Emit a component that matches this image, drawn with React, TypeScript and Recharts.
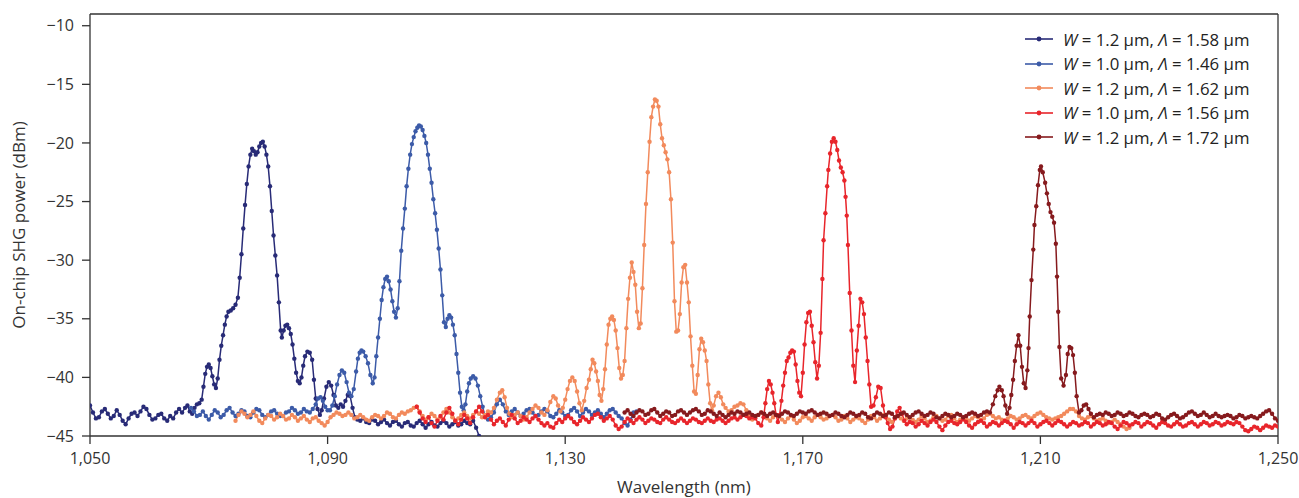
import { LineChart, Line, XAxis, YAxis, Legend, ReferenceLine } from 'recharts'

// the chart fills the whole window, so drop the default body margin
document.body.style.margin = '0'

const FONT = "'Open Sans', sans-serif"

const wavelengthTicks = [1050, 1090, 1130, 1170, 1210, 1250]
const powerTicks = [-45, -40, -35, -30, -25, -20, -15, -10]

// legend: waveguide width W and poling period Λ (μm)
const widths = ['1.2', '1.0', '1.2', '1.0', '1.2']
const periods = ['1.58', '1.46', '1.62', '1.56', '1.72']
const colors = ['#282b77', '#3c5ba8', '#f28a5c', '#e8252b', '#861a1d']

// [wavelength nm, power dBm]
const s1: [number, number][] = [
	[1050, -42.4], [1050.5, -43.0], [1051, -43.5], [1051.5, -43.4], [1052, -42.9], [1052.5, -42.7], [1053, -43.1], [1053.5, -43.5],
	[1054, -43.3], [1054.5, -42.8], [1055, -43.2], [1055.5, -43.7], [1056, -44.0], [1056.5, -43.5], [1057, -43.1], [1057.5, -43.0],
	[1058, -43.3], [1058.5, -42.9], [1059, -42.5], [1059.5, -42.7], [1060, -43.2], [1060.5, -43.6], [1061, -43.5], [1061.5, -43.2],
	[1062, -43.1], [1062.5, -43.5], [1063, -43.7], [1063.5, -43.3], [1064, -43.5], [1064.5, -43.0], [1065, -42.7], [1065.5, -43.0],
	[1066, -42.6], [1066.4, -42.4], [1066.8, -42.9], [1067.2, -43.1], [1067.6, -42.6], [1068, -42.3], [1068.4, -42.2], [1068.8, -41.9],
	[1069.1, -40.8], [1069.4, -39.7], [1069.7, -39.1], [1070, -38.9], [1070.3, -39.2], [1070.6, -39.9], [1070.9, -40.6], [1071.2, -40.9],
	[1071.5, -40.1], [1071.8, -38.5], [1072.1, -37.3], [1072.4, -36.4], [1072.7, -35.5], [1073, -34.8], [1073.3, -34.4], [1073.7, -34.3],
	[1074.1, -34.1], [1074.5, -33.8], [1074.9, -33.2], [1075.2, -31.5], [1075.5, -29.5], [1075.8, -27.3], [1076.1, -25.3], [1076.4, -23.5],
	[1076.7, -22.0], [1077, -21.0], [1077.3, -20.5], [1077.6, -20.7], [1077.9, -21.0], [1078.2, -20.8], [1078.5, -20.3], [1078.8, -20.0],
	[1079.1, -19.9], [1079.4, -20.3], [1079.7, -21.0], [1080, -22.0], [1080.3, -23.7], [1080.6, -25.8], [1080.9, -27.9], [1081.2, -29.6],
	[1081.5, -31.3], [1081.8, -33.6], [1082.1, -36.0], [1082.3, -36.6], [1082.6, -36.0], [1082.9, -35.6], [1083.2, -35.5], [1083.5, -35.8],
	[1083.8, -36.3], [1084.1, -37.2], [1084.4, -38.4], [1084.7, -39.6], [1085, -40.3], [1085.3, -40.5], [1085.6, -40.0], [1085.9, -39.0],
	[1086.2, -38.2], [1086.6, -37.8], [1087, -37.9], [1087.4, -38.5], [1087.7, -40.2], [1088, -41.8], [1088.3, -42.7], [1088.7, -43.2],
	[1089, -42.8], [1089.4, -41.8], [1089.8, -40.8], [1090.2, -40.4], [1090.6, -40.7], [1091, -41.5], [1091.4, -42.4], [1091.8, -42.6],
	[1092.2, -42.3], [1092.6, -42.5], [1093, -42.0], [1093.4, -41.5], [1093.8, -41.6], [1094.2, -42.6], [1094.6, -43.4], [1095, -43.6],
	[1095.5, -43.7], [1096, -43.5], [1096.5, -43.8], [1097, -43.9], [1097.5, -43.6], [1098, -43.7], [1098.5, -44.0], [1099, -43.8],
	[1099.5, -43.6], [1100, -43.9], [1100.5, -44.1], [1101, -43.8], [1101.5, -43.7], [1102, -44.0], [1102.5, -44.2], [1103, -43.9],
	[1103.5, -43.8], [1104, -44.1], [1104.5, -44.2], [1105, -43.9], [1105.5, -43.7], [1106, -44.0], [1106.5, -44.3], [1107, -44.0],
	[1107.5, -43.8], [1108, -44.1], [1108.5, -44.2], [1109, -43.9], [1109.5, -43.7], [1110, -43.9], [1110.5, -44.2], [1111, -44.0],
	[1111.5, -43.8], [1112, -44.1], [1112.5, -44.0], [1113, -43.7], [1113.5, -43.9], [1114, -44.0], [1114.5, -43.7], [1115, -44.3],
	[1115.5, -45.0],
]

const s2: [number, number][] = [
	[1067, -42.6], [1067.5, -42.9], [1068, -43.3], [1068.5, -43.2], [1069, -42.9], [1069.5, -43.3], [1070, -43.6], [1070.5, -43.2],
	[1071, -42.8], [1071.5, -43.0], [1072, -43.4], [1072.5, -43.2], [1073, -42.8], [1073.5, -42.6], [1074, -43.0], [1074.5, -43.3],
	[1075, -43.1], [1075.5, -42.8], [1076, -42.9], [1076.5, -43.3], [1077, -43.4], [1077.5, -43.0], [1078, -42.7], [1078.5, -42.8],
	[1079, -43.2], [1079.5, -43.4], [1080, -43.2], [1080.5, -42.9], [1081, -42.8], [1081.5, -43.1], [1082, -43.3], [1082.5, -43.3],
	[1083, -43.0], [1083.5, -42.9], [1084, -42.6], [1084.5, -42.8], [1085, -43.1], [1085.5, -43.0], [1086, -42.7], [1086.5, -42.9],
	[1087, -43.0], [1087.5, -42.7], [1088, -42.3], [1088.4, -41.8], [1088.8, -41.7], [1089.2, -42.0], [1089.6, -42.5], [1090, -42.8],
	[1090.4, -42.8], [1090.8, -42.4], [1091.2, -41.6], [1091.6, -40.6], [1092, -39.8], [1092.4, -39.4], [1092.8, -39.6], [1093.2, -40.4],
	[1093.6, -41.3], [1094, -41.6], [1094.4, -41.0], [1094.8, -39.5], [1095.1, -38.4], [1095.4, -37.9], [1095.7, -37.7], [1096, -37.8],
	[1096.4, -38.2], [1096.8, -38.8], [1097.2, -39.8], [1097.6, -40.5], [1097.9, -40.0], [1098.2, -38.2], [1098.5, -36.6], [1098.8, -35.0],
	[1099.1, -33.4], [1099.4, -32.3], [1099.7, -31.6], [1100, -31.4], [1100.3, -31.8], [1100.6, -32.5], [1100.9, -33.5], [1101.2, -34.4],
	[1101.5, -34.9], [1101.8, -34.1], [1102.1, -31.8], [1102.4, -29.2], [1102.7, -27.3], [1103, -25.6], [1103.3, -23.7], [1103.6, -22.2],
	[1103.9, -21.0], [1104.2, -20.1], [1104.5, -19.5], [1104.8, -19.0], [1105.1, -18.7], [1105.4, -18.5], [1105.7, -18.6], [1106, -18.9],
	[1106.3, -19.4], [1106.6, -20.0], [1106.9, -21.0], [1107.2, -22.2], [1107.5, -23.4], [1107.8, -24.8], [1108.1, -26.0], [1108.4, -27.4],
	[1108.7, -29.0], [1109, -30.8], [1109.3, -33.0], [1109.6, -35.3], [1109.9, -35.7], [1110.2, -35.0], [1110.5, -34.7], [1110.8, -34.9],
	[1111.1, -35.5], [1111.4, -36.4], [1111.7, -38.0], [1112, -39.6], [1112.3, -41.3], [1112.6, -42.5], [1112.9, -42.8], [1113.2, -42.3],
	[1113.5, -41.2], [1113.8, -40.5], [1114.1, -40.1], [1114.5, -39.9], [1114.9, -40.1], [1115.3, -40.7], [1115.7, -41.6], [1116.1, -42.5],
	[1116.5, -43.3], [1117, -43.6], [1117.5, -43.4], [1118, -43.0], [1118.5, -42.3], [1119, -41.9], [1119.5, -42.3], [1120, -42.9],
	[1120.5, -43.2], [1121, -42.9], [1121.5, -42.7], [1122, -43.0], [1122.5, -43.3], [1123, -43.1], [1123.5, -42.8], [1124, -42.7],
	[1124.5, -43.0], [1125, -43.3], [1125.5, -43.2], [1126, -42.9], [1126.5, -42.7], [1127, -42.9], [1127.5, -43.3], [1128, -43.4],
	[1128.5, -43.1], [1129, -42.8], [1129.5, -43.0], [1130, -43.3], [1130.5, -43.2], [1131, -42.8], [1131.5, -42.6], [1132, -42.9],
	[1132.5, -43.3], [1133, -43.0], [1133.5, -42.7], [1134, -42.9], [1134.5, -43.2], [1135, -43.0], [1135.5, -42.8], [1136, -43.1],
	[1136.5, -43.4], [1137, -43.1], [1137.5, -42.8], [1138, -42.7], [1138.5, -43.0], [1139, -43.3], [1139.5, -43.5], [1140, -43.9],
	[1140.5, -44.1], [1141, -43.6], [1141.5, -43.0], [1142, -42.9],
]

const s3: [number, number][] = [
	[1074.5, -43.7], [1075, -43.2], [1075.5, -42.9], [1076, -43.1], [1076.5, -43.4], [1077, -43.2], [1077.5, -42.9], [1078, -43.3],
	[1078.5, -43.7], [1079, -43.9], [1079.5, -43.5], [1080, -43.2], [1080.5, -43.3], [1081, -43.6], [1081.5, -43.4], [1082, -43.1],
	[1082.5, -43.3], [1083, -43.6], [1083.5, -43.5], [1084, -43.2], [1084.5, -43.4], [1085, -43.7], [1085.5, -43.5], [1086, -43.3],
	[1086.5, -43.6], [1087, -43.8], [1087.5, -43.5], [1088, -43.4], [1088.5, -43.7], [1089, -43.9], [1089.5, -44.1], [1090, -43.8],
	[1090.5, -43.4], [1091, -43.2], [1091.5, -43.0], [1092, -43.1], [1092.5, -43.3], [1093, -43.2], [1093.5, -43.0], [1094, -43.2],
	[1094.5, -43.5], [1095, -43.4], [1095.5, -43.2], [1096, -43.4], [1096.5, -43.6], [1097, -43.7], [1097.5, -43.4], [1098, -43.2],
	[1098.5, -43.3], [1099, -43.5], [1099.5, -43.3], [1100, -43.0], [1100.5, -43.1], [1101, -43.4], [1101.5, -43.5], [1102, -43.2],
	[1102.5, -43.0], [1103, -43.1], [1103.5, -42.9], [1104, -42.8], [1104.5, -42.6], [1105, -42.5], [1105.5, -42.9], [1106, -43.3],
	[1106.5, -43.6], [1107, -43.4], [1107.5, -43.1], [1108, -43.3], [1108.5, -43.6], [1109, -43.4], [1109.5, -43.0], [1110, -42.7],
	[1110.5, -43.0], [1111, -43.4], [1111.5, -43.7], [1112, -43.5], [1112.5, -43.2], [1113, -43.0], [1113.5, -43.3], [1114, -43.5],
	[1114.5, -43.2], [1115, -42.9], [1115.5, -43.1], [1116, -43.4], [1116.5, -43.2], [1117, -42.9], [1117.5, -43.0], [1118, -42.6],
	[1118.5, -41.9], [1119, -41.3], [1119.4, -41.1], [1119.8, -41.7], [1120.2, -42.6], [1120.6, -43.1], [1121, -43.4], [1121.5, -43.2],
	[1122, -43.0], [1122.5, -43.3], [1123, -43.6], [1123.5, -43.4], [1124, -43.0], [1124.5, -42.7], [1125, -42.4], [1125.5, -42.6],
	[1126, -43.0], [1126.5, -43.2], [1127, -42.8], [1127.5, -42.1], [1128, -41.6], [1128.4, -41.8], [1128.8, -42.4], [1129.2, -42.9],
	[1129.6, -42.6], [1130, -41.9], [1130.4, -41.0], [1130.8, -40.3], [1131.2, -40.0], [1131.6, -40.3], [1132, -41.2], [1132.4, -42.2],
	[1132.8, -42.8], [1133.2, -42.0], [1133.6, -40.9], [1134, -40.2], [1134.3, -39.3], [1134.6, -38.5], [1134.9, -38.8], [1135.2, -39.5],
	[1135.5, -40.3], [1135.8, -41.5], [1136.1, -42.0], [1136.4, -41.0], [1136.7, -39.3], [1137, -37.2], [1137.3, -35.5], [1137.6, -35.0],
	[1137.9, -34.8], [1138.2, -35.1], [1138.5, -36.0], [1138.8, -37.5], [1139.1, -39.2], [1139.4, -40.1], [1139.7, -39.8], [1140, -38.6],
	[1140.3, -35.8], [1140.6, -33.3], [1140.9, -31.5], [1141.2, -30.2], [1141.5, -31.0], [1141.8, -32.1], [1142.1, -34.4], [1142.4, -35.8],
	[1142.7, -35.4], [1143, -32.4], [1143.3, -28.7], [1143.6, -25.2], [1143.9, -22.5], [1144.2, -19.9], [1144.5, -17.8], [1144.8, -16.9],
	[1145.1, -16.3], [1145.4, -16.4], [1145.7, -16.9], [1146, -18.4], [1146.3, -19.6], [1146.6, -20.2], [1146.9, -20.8], [1147.2, -21.4],
	[1147.5, -22.5], [1147.8, -24.8], [1148.1, -28.5], [1148.4, -33.5], [1148.7, -36.1], [1149, -36.0], [1149.3, -34.6], [1149.6, -31.9],
	[1149.9, -30.6], [1150.2, -30.4], [1150.5, -31.9], [1150.8, -33.6], [1151.1, -36.5], [1151.4, -39.0], [1151.7, -41.2], [1152, -41.4],
	[1152.3, -39.8], [1152.6, -37.6], [1152.9, -36.7], [1153.2, -37.0], [1153.5, -37.7], [1153.8, -38.6], [1154.1, -40.6], [1154.4, -42.2],
	[1154.7, -42.8], [1155, -42.4], [1155.4, -41.6], [1155.8, -41.3], [1156.2, -41.7], [1156.6, -42.3], [1157, -42.6], [1157.5, -42.9],
	[1158, -42.8], [1158.5, -42.5], [1159, -42.4], [1159.5, -42.2], [1160, -42.3], [1160.5, -42.8], [1161, -43.3], [1161.5, -43.6],
	[1162, -43.4], [1162.5, -43.2], [1163, -43.0], [1163.5, -43.2], [1164, -43.5], [1164.5, -43.7], [1165, -43.4], [1165.5, -43.2],
	[1166, -43.3], [1166.5, -43.6], [1167, -43.8], [1167.5, -43.5], [1168, -43.3], [1168.5, -43.6], [1169, -43.9], [1169.5, -43.7],
	[1170, -43.4], [1170.5, -43.3], [1171, -43.5], [1171.5, -43.7], [1172, -43.4], [1172.5, -43.2], [1173, -43.4], [1173.5, -43.6],
	[1174, -43.5], [1174.5, -43.3], [1175, -43.2], [1175.5, -43.4], [1176, -43.7], [1176.5, -43.6], [1177, -43.3], [1177.5, -43.5],
	[1178, -43.8], [1178.5, -43.6], [1179, -43.4], [1179.5, -43.5], [1180, -43.7], [1180.5, -43.9], [1181, -43.6], [1181.5, -43.3],
	[1182, -43.4], [1182.5, -43.7], [1183, -43.5], [1183.5, -43.2], [1184, -43.3], [1184.5, -43.6], [1185, -43.8], [1185.5, -43.5],
	[1186, -43.3], [1186.5, -43.5], [1187, -43.7], [1187.5, -43.5], [1188, -43.4], [1188.5, -43.6], [1189, -43.8], [1189.5, -43.6],
	[1190, -43.3], [1190.5, -43.5], [1191, -43.8], [1191.5, -43.7], [1192, -43.4], [1192.5, -43.3], [1193, -43.5], [1193.5, -43.7],
	[1194, -43.6], [1194.5, -43.3], [1195, -43.2], [1195.5, -43.5], [1196, -43.8], [1196.5, -43.6], [1197, -43.4], [1197.5, -43.5],
	[1198, -43.7], [1198.5, -43.5], [1199, -43.3], [1199.5, -43.4], [1200, -43.6], [1200.5, -43.5], [1201, -43.2], [1201.5, -43.1],
	[1202, -43.3], [1202.5, -43.5], [1203, -43.4], [1203.5, -43.6], [1204, -43.7], [1204.5, -43.5], [1205, -43.3], [1205.5, -43.4],
	[1206, -43.6], [1206.5, -43.5], [1207, -43.3], [1207.5, -43.2], [1208, -43.4], [1208.5, -43.5], [1209, -43.3], [1209.5, -43.1],
	[1210, -43.0], [1210.5, -43.2], [1211, -43.4], [1211.5, -43.5], [1212, -43.6], [1212.5, -43.5], [1213, -43.4], [1213.5, -43.3],
	[1214, -43.1], [1214.5, -42.9], [1215, -42.7], [1215.5, -42.7], [1216, -42.9], [1216.5, -43.3], [1217, -43.5], [1217.5, -43.6],
	[1218, -43.4], [1218.5, -43.3], [1219, -43.5], [1219.5, -43.7], [1220, -43.6], [1220.5, -43.5], [1221, -43.7], [1221.5, -43.9],
	[1222, -43.8], [1222.5, -43.6], [1223, -43.8], [1223.5, -44.0], [1224, -44.2], [1224.5, -44.4], [1225, -44.3],
]

const s4: [number, number][] = [
	[1105, -42.5], [1105.5, -43.0], [1106, -43.5], [1106.5, -43.8], [1107, -43.4], [1107.5, -43.9], [1108, -44.2], [1108.5, -43.7],
	[1109, -43.3], [1109.5, -43.6], [1110, -43.0], [1110.5, -42.6], [1111, -43.1], [1111.5, -43.7], [1112, -44.0], [1112.5, -43.6],
	[1113, -43.2], [1113.5, -43.5], [1114, -43.9], [1114.5, -43.4], [1115, -42.9], [1115.5, -42.5], [1116, -42.9], [1116.5, -43.4],
	[1117, -43.2], [1117.5, -43.6], [1118, -44.0], [1118.5, -43.7], [1119, -43.5], [1119.5, -43.8], [1120, -44.1], [1120.5, -43.6],
	[1121, -43.2], [1121.5, -43.5], [1122, -43.9], [1122.5, -43.7], [1123, -43.4], [1123.5, -43.6], [1124, -43.8], [1124.5, -43.5],
	[1125, -43.3], [1125.5, -43.6], [1126, -43.9], [1126.5, -44.1], [1127, -43.9], [1127.5, -44.2], [1128, -44.3], [1128.5, -43.9],
	[1129, -43.6], [1129.5, -43.8], [1130, -43.5], [1130.5, -43.3], [1131, -43.5], [1131.5, -43.8], [1132, -44.0], [1132.5, -43.7],
	[1133, -43.4], [1133.5, -43.6], [1134, -43.8], [1134.5, -43.5], [1135, -43.2], [1135.5, -43.1], [1136, -43.4], [1136.5, -43.7],
	[1137, -43.5], [1137.5, -43.3], [1138, -43.6], [1138.5, -44.1], [1139, -44.4], [1139.5, -44.2], [1140, -43.8], [1140.5, -43.5],
	[1141, -43.7], [1141.5, -43.9], [1142, -43.6], [1142.5, -43.4], [1143, -43.6], [1143.5, -43.9], [1144, -43.7], [1144.5, -43.5],
	[1145, -43.6], [1145.5, -43.8], [1146, -43.9], [1146.5, -43.6], [1147, -43.4], [1147.5, -43.6], [1148, -43.8], [1148.5, -43.9],
	[1149, -43.7], [1149.5, -43.5], [1150, -43.7], [1150.5, -43.9], [1151, -43.7], [1151.5, -43.5], [1152, -43.6], [1152.5, -43.8],
	[1153, -43.9], [1153.5, -43.7], [1154, -43.5], [1154.5, -43.7], [1155, -43.8], [1155.5, -43.6], [1156, -43.5], [1156.5, -43.7],
	[1157, -43.9], [1157.5, -43.7], [1158, -43.5], [1158.5, -43.4], [1159, -43.6], [1159.5, -43.4], [1160, -43.2], [1160.5, -43.3],
	[1161, -43.5], [1161.5, -43.4], [1162, -43.5], [1162.5, -43.9], [1163, -44.1], [1163.4, -43.4], [1163.7, -42.2], [1164, -41.0],
	[1164.3, -40.3], [1164.6, -40.6], [1164.9, -41.3], [1165.2, -42.2], [1165.5, -43.2], [1165.8, -43.8], [1166.1, -43.2], [1166.4, -42.0],
	[1166.7, -40.7], [1167, -39.6], [1167.3, -38.6], [1167.6, -38.3], [1167.9, -37.9], [1168.2, -37.7], [1168.5, -37.8], [1168.8, -38.9],
	[1169.1, -40.3], [1169.4, -41.3], [1169.7, -41.6], [1170, -39.6], [1170.3, -37.2], [1170.6, -35.3], [1170.9, -34.5], [1171.2, -34.4],
	[1171.5, -35.6], [1171.8, -37.0], [1172.1, -38.7], [1172.4, -40.1], [1172.7, -39.0], [1173, -36.2], [1173.3, -31.6], [1173.5, -28.3],
	[1173.8, -26.0], [1174.1, -23.7], [1174.3, -22.3], [1174.6, -20.9], [1174.9, -19.9], [1175.2, -19.6], [1175.5, -19.9], [1175.8, -20.6],
	[1176.1, -21.5], [1176.4, -22.1], [1176.7, -22.5], [1177, -23.2], [1177.2, -24.6], [1177.4, -26.2], [1177.6, -28.7], [1177.9, -32.8],
	[1178.2, -36.0], [1178.5, -39.0], [1178.8, -40.4], [1179.1, -37.7], [1179.4, -35.6], [1179.7, -33.3], [1180, -33.6], [1180.3, -34.6],
	[1180.6, -36.6], [1180.9, -38.6], [1181.2, -40.6], [1181.5, -42.5], [1181.9, -42.4], [1182.3, -41.7], [1182.7, -40.8], [1183.1, -40.9],
	[1183.5, -42.4], [1183.9, -43.4], [1184.3, -43.9], [1184.7, -44.4], [1185.1, -44.2], [1185.5, -43.5], [1185.9, -42.9], [1186.3, -42.6],
	[1186.7, -43.1], [1187.1, -43.7], [1187.5, -44.0], [1188, -43.8], [1188.5, -43.9], [1189, -44.2], [1189.5, -44.0], [1190, -43.7],
	[1190.5, -43.9], [1191, -44.1], [1191.5, -43.8], [1192, -43.6], [1192.5, -43.8], [1193, -44.2], [1193.5, -44.5], [1194, -44.1],
	[1194.5, -43.8], [1195, -43.7], [1195.5, -43.9], [1196, -44.0], [1196.5, -43.8], [1197, -43.6], [1197.5, -43.8], [1198, -44.1],
	[1198.5, -44.3], [1199, -44.0], [1199.5, -43.8], [1200, -43.7], [1200.5, -43.9], [1201, -44.2], [1201.5, -44.0], [1202, -43.8],
	[1202.5, -43.9], [1203, -44.1], [1203.5, -43.9], [1204, -43.7], [1204.5, -43.8], [1205, -44.0], [1205.5, -44.3], [1206, -44.0],
	[1206.5, -43.8], [1207, -43.9], [1207.5, -44.1], [1208, -43.9], [1208.5, -43.7], [1209, -43.9], [1209.5, -44.2], [1210, -44.0],
	[1210.5, -43.8], [1211, -43.7], [1211.5, -43.9], [1212, -44.1], [1212.5, -43.9], [1213, -43.7], [1213.5, -43.8], [1214, -44.0],
	[1214.5, -44.2], [1215, -44.0], [1215.5, -43.8], [1216, -43.9], [1216.5, -44.1], [1217, -44.0], [1217.5, -43.8], [1218, -43.9],
	[1218.5, -44.2], [1219, -44.0], [1219.5, -43.8], [1220, -43.9], [1220.5, -44.1], [1221, -44.0], [1221.5, -43.8], [1222, -43.9],
	[1222.5, -44.2], [1223, -44.4], [1223.5, -44.1], [1224, -43.8], [1224.5, -43.9], [1225, -44.1], [1225.5, -44.0], [1226, -43.8],
	[1226.5, -43.9], [1227, -44.2], [1227.5, -44.0], [1228, -43.8], [1228.5, -43.9], [1229, -44.1], [1229.5, -44.3], [1230, -44.0],
	[1230.5, -43.8], [1231, -43.9], [1231.5, -44.1], [1232, -44.2], [1232.5, -44.0], [1233, -43.8], [1233.5, -44.0], [1234, -44.2],
	[1234.5, -44.1], [1235, -43.9], [1235.5, -43.8], [1236, -44.0], [1236.5, -44.2], [1237, -44.0], [1237.5, -43.8], [1238, -43.9],
	[1238.5, -44.1], [1239, -44.0], [1239.5, -43.8], [1240, -43.9], [1240.5, -44.1], [1241, -44.0], [1241.5, -43.8], [1242, -43.9],
	[1242.5, -44.0], [1243, -43.8], [1243.5, -43.9], [1244, -44.2], [1244.5, -44.5], [1245, -44.6], [1245.5, -44.4], [1246, -44.2],
	[1246.5, -44.3], [1247, -44.5], [1247.5, -44.3], [1248, -44.1], [1248.5, -44.2], [1249, -44.3], [1249.5, -44.1], [1250, -44.2],
]

const s5: [number, number][] = [
	[1140, -43.0], [1140.5, -42.8], [1141, -43.1], [1141.5, -43.3], [1142, -43.0], [1142.5, -42.8], [1143, -42.9], [1143.5, -43.2],
	[1144, -43.1], [1144.5, -42.8], [1145, -42.7], [1145.5, -43.0], [1146, -43.3], [1146.5, -43.1], [1147, -42.9], [1147.5, -43.0],
	[1148, -43.3], [1148.5, -43.2], [1149, -42.9], [1149.5, -42.8], [1150, -43.0], [1150.5, -43.2], [1151, -43.0], [1151.5, -42.8],
	[1152, -42.7], [1152.5, -42.9], [1153, -43.2], [1153.5, -43.1], [1154, -42.8], [1154.5, -42.9], [1155, -43.1], [1155.5, -43.3],
	[1156, -43.0], [1156.5, -43.2], [1157, -43.4], [1157.5, -43.2], [1158, -43.0], [1158.5, -43.1], [1159, -42.9], [1159.5, -43.0],
	[1160, -43.2], [1160.5, -43.1], [1161, -43.0], [1161.5, -43.2], [1162, -43.3], [1162.5, -43.2], [1163, -43.0], [1163.5, -43.1],
	[1164, -43.3], [1164.5, -43.1], [1165, -43.0], [1165.5, -43.2], [1166, -43.3], [1166.5, -43.1], [1167, -42.9], [1167.5, -43.0],
	[1168, -43.2], [1168.5, -43.3], [1169, -43.1], [1169.5, -42.9], [1170, -43.0], [1170.5, -43.1], [1171, -42.9], [1171.5, -42.8],
	[1172, -43.0], [1172.5, -43.2], [1173, -43.1], [1173.5, -43.0], [1174, -43.1], [1174.5, -43.3], [1175, -43.2], [1175.5, -43.0],
	[1176, -43.1], [1176.5, -43.3], [1177, -43.4], [1177.5, -43.2], [1178, -43.0], [1178.5, -43.1], [1179, -43.3], [1179.5, -43.2],
	[1180, -43.0], [1180.5, -43.1], [1181, -43.4], [1181.5, -43.5], [1182, -43.2], [1182.5, -43.0], [1183, -43.1], [1183.5, -43.3],
	[1184, -43.2], [1184.5, -43.0], [1185, -43.1], [1185.5, -43.4], [1186, -43.3], [1186.5, -43.1], [1187, -43.0], [1187.5, -43.2],
	[1188, -43.4], [1188.5, -43.2], [1189, -43.0], [1189.5, -42.9], [1190, -43.1], [1190.5, -43.3], [1191, -43.2], [1191.5, -43.0],
	[1192, -43.1], [1192.5, -43.4], [1193, -43.5], [1193.5, -43.3], [1194, -43.1], [1194.5, -43.2], [1195, -43.4], [1195.5, -43.3],
	[1196, -43.1], [1196.5, -43.2], [1197, -43.4], [1197.5, -43.3], [1198, -43.1], [1198.5, -43.0], [1199, -43.1], [1199.5, -43.3],
	[1200, -43.2], [1200.5, -43.0], [1201, -42.9], [1201.5, -43.0], [1202, -42.3], [1202.4, -41.6], [1202.8, -41.1], [1203.1, -40.8],
	[1203.5, -41.1], [1203.8, -41.6], [1204.1, -42.4], [1204.4, -43.1], [1204.8, -42.6], [1205.1, -41.5], [1205.4, -40.2], [1205.7, -38.6],
	[1206, -37.3], [1206.3, -36.4], [1206.6, -37.3], [1206.9, -39.1], [1207.2, -40.5], [1207.5, -40.9], [1207.8, -39.4], [1208, -37.5],
	[1208.2, -34.8], [1208.5, -31.7], [1208.8, -29.1], [1209, -27.0], [1209.3, -25.4], [1209.6, -23.6], [1209.9, -22.3], [1210.1, -22.0],
	[1210.4, -22.5], [1210.8, -23.4], [1211.1, -24.3], [1211.4, -25.2], [1211.7, -25.9], [1212, -26.3], [1212.3, -26.8], [1212.6, -28.6],
	[1212.8, -31.4], [1213, -34.4], [1213.2, -37.4], [1213.5, -40.1], [1213.9, -40.7], [1214.3, -39.8], [1214.6, -38.0], [1214.9, -37.4],
	[1215.2, -37.5], [1215.5, -38.1], [1215.8, -39.6], [1216.1, -41.6], [1216.5, -43.0], [1216.9, -42.8], [1217.3, -42.4], [1217.7, -42.3],
	[1218.1, -42.7], [1218.5, -43.1], [1219, -43.4], [1219.5, -43.2], [1220, -43.1], [1220.5, -43.2], [1221, -43.0], [1221.5, -43.1],
	[1222, -43.3], [1222.5, -43.2], [1223, -43.0], [1223.5, -43.1], [1224, -43.3], [1224.5, -43.2], [1225, -43.0], [1225.5, -43.1],
	[1226, -43.3], [1226.5, -43.4], [1227, -43.2], [1227.5, -43.1], [1228, -43.2], [1228.5, -43.4], [1229, -43.3], [1229.5, -43.1],
	[1230, -43.2], [1230.5, -43.5], [1231, -43.6], [1231.5, -43.4], [1232, -43.2], [1232.5, -43.1], [1233, -43.3], [1233.5, -43.5],
	[1234, -43.4], [1234.5, -43.2], [1235, -43.0], [1235.5, -42.9], [1236, -43.1], [1236.5, -43.3], [1237, -43.2], [1237.5, -43.0],
	[1238, -43.2], [1238.5, -43.4], [1239, -43.3], [1239.5, -43.1], [1240, -43.3], [1240.5, -43.4], [1241, -43.3], [1241.5, -43.2],
	[1242, -43.3], [1242.5, -43.5], [1243, -43.4], [1243.5, -43.2], [1244, -43.3], [1244.5, -43.5], [1245, -43.4], [1245.5, -43.3],
	[1246, -43.4], [1246.5, -43.5], [1247, -43.3], [1247.5, -43.1], [1248, -42.9], [1248.5, -42.8], [1249, -43.1], [1249.5, -43.5],
	[1250, -43.7],
]

const spectra = [s1, s2, s3, s4, s5]

const toPoints = (s: [number, number][]) => s.map(([wl, p]) => ({ wl, p }))

const formatWavelength = (v: number) => v.toLocaleString('en-US')
const formatPower = (v: number) => String(v).replace('-', '\u2212')

function SpectraLegend() {
	return (
		<div style={{ fontFamily: FONT, fontSize: 16.8, color: '#222', whiteSpace: 'nowrap' }}>
			{widths.map((w, i) => (
				<div key={i} style={{ display: 'flex', alignItems: 'center', height: 24.5 }}>
					<svg width={28} height={8} style={{ marginRight: 10 }}>
						<line x1={0} y1={4} x2={28} y2={4} stroke={colors[i]} strokeWidth={1.6} />
						<circle cx={14} cy={4} r={2.4} fill={colors[i]} />
					</svg>
					<span>
						<i>W</i> = {w} μm, <i>Λ</i> = {periods[i]} μm
					</span>
				</div>
			))}
		</div>
	)
}

export default function App() {
	return (
		<div style={{ width: 1299, height: 498 }}>
			<LineChart width={1299} height={498} margin={{ top: 14, right: 21, bottom: 0, left: 0 }}>
				<XAxis
					type='number'
					dataKey='wl'
					domain={[1050, 1250]}
					ticks={wavelengthTicks}
					tickFormatter={formatWavelength}
					allowDataOverflow
					height={62}
					tickSize={8}
					tickMargin={9}
					axisLine={{ stroke: '#333', strokeWidth: 1.3 }}
					tickLine={{ stroke: '#333', strokeWidth: 1.3 }}
					tick={{ fill: '#333', fontSize: 16, fontFamily: FONT }}
					label={{
						content: ({ viewBox }: any) => (
							<text
								x={viewBox.x + viewBox.width / 2}
								y={viewBox.y + 57}
								textAnchor='middle'
								fill='#333'
								fontSize={17}
								fontFamily={FONT}
							>
								Wavelength (nm)
							</text>
						),
					}}
				/>
				<YAxis
					type='number'
					domain={[-45, -9]}
					ticks={powerTicks}
					tickFormatter={formatPower}
					allowDataOverflow
					width={90}
					tickSize={8}
					tickMargin={8}
					axisLine={{ stroke: '#333', strokeWidth: 1.3 }}
					tickLine={{ stroke: '#333', strokeWidth: 1.3 }}
					tick={{ fill: '#333', fontSize: 16, fontFamily: FONT }}
					label={{
						content: ({ viewBox }: any) => {
							const cx = 25
							const cy = viewBox.y + viewBox.height / 2
							return (
								<text
									x={cx}
									y={cy}
									transform={`rotate(-90, ${cx}, ${cy})`}
									textAnchor='middle'
									fill='#333'
									fontSize={17}
									fontFamily={FONT}
								>
									On-chip SHG power (dBm)
								</text>
							)
						},
					}}
				/>
				<ReferenceLine y={-9} stroke='#333' strokeWidth={1.3} />
				<ReferenceLine x={1250} stroke='#333' strokeWidth={1.3} />
				<Legend
					layout='vertical'
					align='center'
					verticalAlign='middle'
					content={<SpectraLegend />}
					wrapperStyle={{ position: 'absolute', left: 1025, top: 27, width: 270 }}
				/>
				{spectra.map((s, i) => (
					<Line
						key={i}
						data={toPoints(s)}
						dataKey='p'
						type='linear'
						stroke={colors[i]}
						strokeWidth={1.5}
						dot={{ r: 2.2, fill: colors[i], stroke: 'none' }}
						activeDot={false}
						isAnimationActive={false}
					/>
				))}
			</LineChart>
		</div>
	)
}
